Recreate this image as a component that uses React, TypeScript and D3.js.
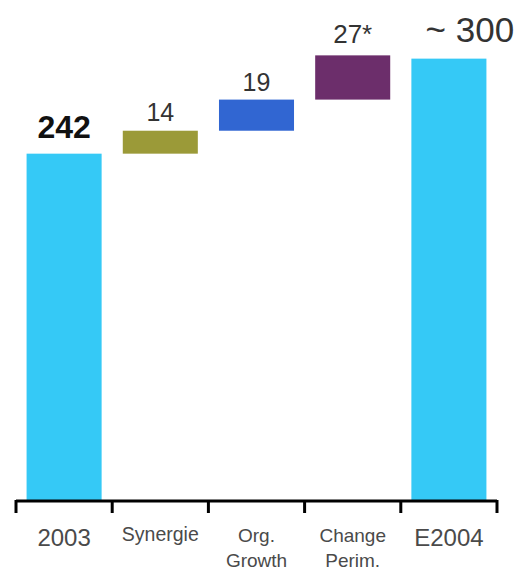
import React from "react";
import * as d3 from "d3";

const categories = ["2003", "Synergie", "Org. Growth", "Change Perim.", "E2004"];
const categoryLines = [["2003"], ["Synergie"], ["Org.", "Growth"], ["Change", "Perim."], ["E2004"]];
const deltas = [242, 14, 19, 27, 300];
const kinds = ["total", "delta", "delta", "delta", "total"];
const valueLabels = ["242", "14", "19", "27*", "~ 300"];
const colors = ["#35c9f6", "#9b9a38", "#3166d2", "#6c2e6b", "#35c9f6"];

const W = 522;
const H = 571;
const FONT = "'Liberation Sans', Arial, Helvetica, sans-serif";

export default function App() {
  const x = d3
    .scaleBand<string>()
    .domain(categories)
    .range([16, 497])
    .paddingInner(0.22)
    .paddingOuter(0.11);
  const y = d3.scaleLinear().domain([30, 301]).range([501, 57]);

  let running = 0;
  const segs = categories.map((c, i) => {
    let lo: number, hi: number;
    if (kinds[i] === "total") {
      lo = y.domain()[0];
      hi = deltas[i];
      running = deltas[i];
    } else {
      lo = running;
      hi = running + deltas[i];
      running = hi;
    }
    return { c, i, lo, hi };
  });

  const step = x.step();
  const gap = (step * x.paddingInner()) / 2;
  const tickXs = categories.map((c) => (x(c) as number) - gap);
  tickXs.push(x.range()[1]);

  const labelStyle: Record<number, { size: number; weight: string; fill: string; dx: number; dy: number }> = {
    0: { size: 32, weight: "bold", fill: "#111", dx: 0, dy: -16 },
    1: { size: 25, weight: "normal", fill: "#333", dx: 0, dy: -10 },
    2: { size: 25, weight: "normal", fill: "#333", dx: 0, dy: -9 },
    3: { size: 26, weight: "normal", fill: "#333", dx: 0, dy: -12 },
    4: { size: 35, weight: "normal", fill: "#333", dx: 21, dy: -17 },
  };

  const catStyle = [
    { size: 24, base: 546 },
    { size: 19.5, base: 541 },
    { size: 19, base: 542 },
    { size: 19, base: 542 },
    { size: 24, base: 546 },
  ];

  return (
    <svg
      width={W}
      height={H}
      style={{ position: "absolute", left: 0, top: 0, background: "#fff" }}
      fontFamily={FONT}
    >
      <rect x={0} y={0} width={W} height={H} fill="#fff" />
      {segs.map((s) => (
        <rect
          key={s.c}
          x={x(s.c)}
          width={x.bandwidth()}
          y={y(s.hi)}
          height={y(s.lo) - y(s.hi)}
          fill={colors[s.i]}
        />
      ))}
      {segs.map((s) => {
        const st = labelStyle[s.i];
        return (
          <text
            key={"l" + s.c}
            x={(x(s.c) as number) + x.bandwidth() / 2 + st.dx}
            y={y(s.hi) + st.dy}
            textAnchor="middle"
            fontSize={st.size}
            fontWeight={st.weight}
            fill={st.fill}
          >
            {valueLabels[s.i]}
          </text>
        );
      })}
      <line x1={x.range()[0]} x2={x.range()[1]} y1={501} y2={501} stroke="#000" strokeWidth={3} />
      {tickXs.map((tx, i) => (
        <line key={"t" + i} x1={tx} x2={tx} y1={500} y2={513} stroke="#000" strokeWidth={3} />
      ))}
      {categories.map((c, i) => (
        <text
          key={"c" + c}
          x={(x(c) as number) + x.bandwidth() / 2}
          y={catStyle[i].base}
          textAnchor="middle"
          fontSize={catStyle[i].size}
          fill="#4a4a4a"
        >
          {categoryLines[i].map((ln, j) => (
            <tspan key={j} x={(x(c) as number) + x.bandwidth() / 2} dy={j === 0 ? 0 : 25}>
              {ln}
            </tspan>
          ))}
        </text>
      ))}
    </svg>
  );
}
